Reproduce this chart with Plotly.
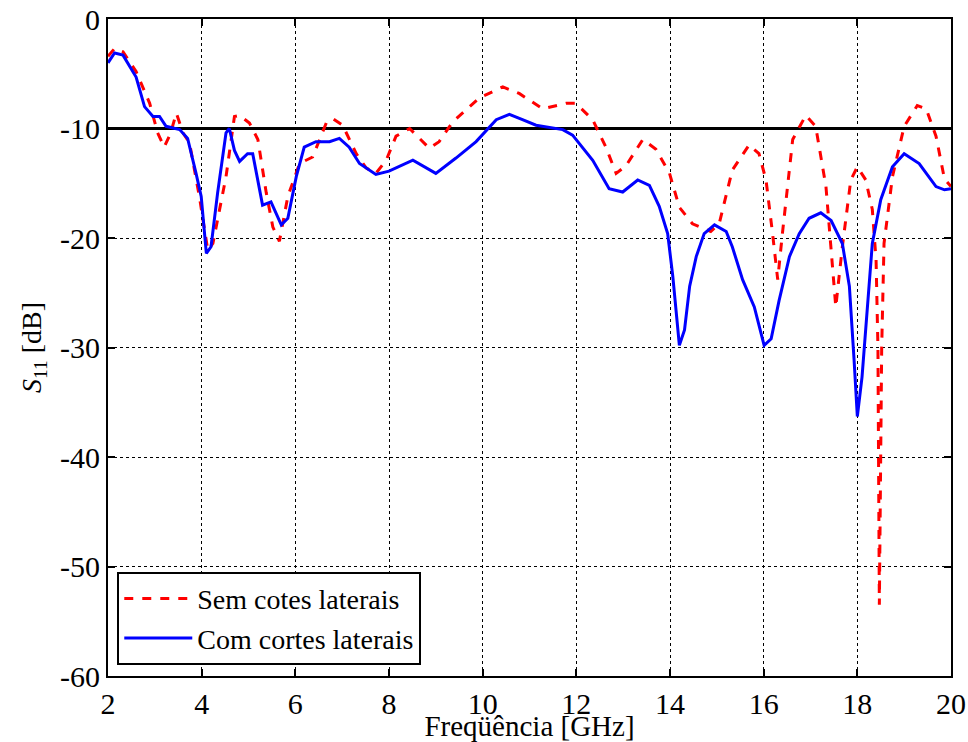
import plotly.graph_objects as go

# --- data ---
red_name = "Sem cotes laterais"
red_x = [2.0, 2.14, 2.32, 2.6, 2.89, 3.06, 3.2, 3.33, 3.46, 3.6, 3.74, 3.95, 4.13, 4.24, 4.52, 4.7, 4.81,
         5.02, 5.2, 5.38, 5.52, 5.66, 5.84, 6.09, 6.37, 6.66, 6.8, 7.01, 7.3, 7.51, 7.72, 7.94, 8.15, 8.44,
         8.86, 9.07, 9.36, 9.93, 10.43, 10.78, 11.28, 11.78, 11.99, 12.35, 12.63, 12.85, 13.06, 13.42, 13.7,
         13.99, 14.2, 14.48, 14.87, 15.05, 15.33, 15.69, 15.9, 16.05, 16.19, 16.3, 16.4, 16.62, 16.9, 17.11,
         17.33, 17.54, 17.68, 17.86, 18.0, 18.18, 18.32, 18.4, 18.44, 18.47, 18.52, 18.57, 18.75, 19.0, 19.28,
         19.47, 19.68, 19.86, 20.0]
red_y = [-3.4, -2.7, -3.0, -4.8, -7.7, -10.4, -11.7, -10.5, -8.6, -10.4, -11.3, -16.2, -21.1, -20.5, -14.4,
         -8.9, -8.8, -9.5, -11.0, -15.9, -19.0, -20.3, -16.2, -13.2, -12.6, -9.5, -9.1, -9.7, -12.3, -13.6,
         -14.1, -12.9, -10.7, -10.0, -11.8, -11.2, -9.4, -7.2, -6.2, -6.8, -8.2, -7.7, -7.7, -9.2, -11.7, -14.1,
         -13.4, -11.0, -11.9, -14.1, -17.2, -18.7, -19.4, -18.7, -13.8, -11.5, -12.3, -14.7, -19.6, -23.8, -19.6,
         -11.0, -8.8, -9.8, -15.3, -26.3, -20.8, -14.7, -13.5, -14.7, -17.4, -22.0, -30.0, -53.5, -30.0, -20.5,
         -14.4, -9.8, -7.9, -8.2, -10.7, -14.6, -15.3]

blue_name = "Com cortes laterais"
blue_x = [2.0, 2.14, 2.32, 2.6, 2.78, 2.96, 3.1, 3.24, 3.53, 3.7, 3.88, 3.99, 4.1, 4.2, 4.34, 4.52, 4.59, 4.7,
          4.81, 4.98, 5.09, 5.3, 5.48, 5.7, 5.84, 6.02, 6.19, 6.44, 6.73, 6.94, 7.15, 7.37, 7.72, 8.0, 8.51,
          9.0, 9.43, 9.86, 10.29, 10.57, 10.85, 11.14, 11.71, 11.92, 12.35, 12.7, 12.99, 13.31, 13.56, 13.77,
          13.95, 14.06, 14.2, 14.31, 14.42, 14.56, 14.73, 14.95, 15.2, 15.33, 15.55, 15.8, 16.01, 16.16, 16.33,
          16.55, 16.76, 16.97, 17.22, 17.44, 17.68, 17.83, 17.93, 18.0, 18.1, 18.22, 18.32, 18.5, 18.75, 19.0,
          19.32, 19.68, 19.86, 20.0]
blue_y = [-4.0, -3.1, -3.3, -5.3, -8.0, -8.9, -8.9, -9.8, -10.1, -10.9, -14.1, -16.2, -21.4, -20.8, -15.9,
          -10.4, -10.0, -12.0, -13.0, -12.3, -12.3, -17.0, -16.7, -18.8, -18.2, -14.4, -11.7, -11.2, -11.2, -10.9,
          -11.7, -13.2, -14.2, -13.9, -12.9, -14.1, -12.7, -11.2, -9.2, -8.7, -9.2, -9.7, -10.1, -10.6, -12.9,
          -15.5, -15.8, -14.7, -15.2, -17.1, -19.6, -23.5, -29.8, -28.4, -24.4, -21.7, -19.6, -18.8, -19.4, -20.8,
          -23.8, -26.3, -29.8, -29.2, -25.7, -21.7, -19.6, -18.2, -17.7, -18.4, -20.5, -24.4, -31.1, -36.3, -32.7,
          -25.7, -20.5, -16.5, -13.5, -12.3, -13.2, -15.3, -15.6, -15.5]

threshold_db = -10
x_range = [2, 20]
y_range = [-60, 0]
x_ticks = [2, 4, 6, 8, 10, 12, 14, 16, 18, 20]
y_ticks = [0, -10, -20, -30, -40, -50, -60]
y_ticklabels = ["0", "-10", "-20", "-30", "-40", "-50", "-60"]

FONT = "Liberation Serif"

fig = go.Figure()
fig.add_trace(go.Scatter(x=x_range, y=[threshold_db, threshold_db], mode="lines",
                         line=dict(color="black", width=3), showlegend=False, hoverinfo="skip"))
fig.add_trace(go.Scatter(x=red_x, y=red_y, mode="lines", name=red_name,
                         line=dict(color="#ff0000", width=3, dash="dash")))
fig.add_trace(go.Scatter(x=blue_x, y=blue_y, mode="lines", name=blue_name,
                         line=dict(color="#0000ff", width=3)))

axis_common = dict(
    showline=True, linecolor="black", linewidth=2, mirror="ticks",
    ticks="inside", ticklen=7, tickwidth=2, tickcolor="black",
    showgrid=True, gridcolor="black", gridwidth=1, griddash="dot",
    zeroline=False, automargin=False,
    tickfont=dict(family=FONT, size=30, color="black"),
)

fig.update_xaxes(range=x_range, tickvals=x_ticks, ticktext=[str(v) for v in x_ticks],
                 title=dict(text="Freqüência [GHz]", font=dict(family=FONT, size=29, color="black"), standoff=4),
                 **axis_common)
fig.update_yaxes(range=y_range, tickvals=y_ticks, ticktext=y_ticklabels,
                 title=dict(text="<i>S</i><sub>11</sub> [dB]", font=dict(family=FONT, size=28, color="black"),
                            standoff=10),
                 **axis_common)

fig.update_layout(
    template="none",
    width=968, height=742,
    margin=dict(l=108, r=17, t=19, b=66),
    paper_bgcolor="white", plot_bgcolor="white",
    font=dict(family=FONT, size=28, color="black"),
    legend=dict(x=0.011, y=0.017, xanchor="left", yanchor="bottom",
                bgcolor="white", bordercolor="black", borderwidth=2,
                font=dict(family=FONT, size=28, color="black"),
                itemwidth=68, tracegroupgap=0),
    showlegend=True,
)

fig.write_html("out.html")
